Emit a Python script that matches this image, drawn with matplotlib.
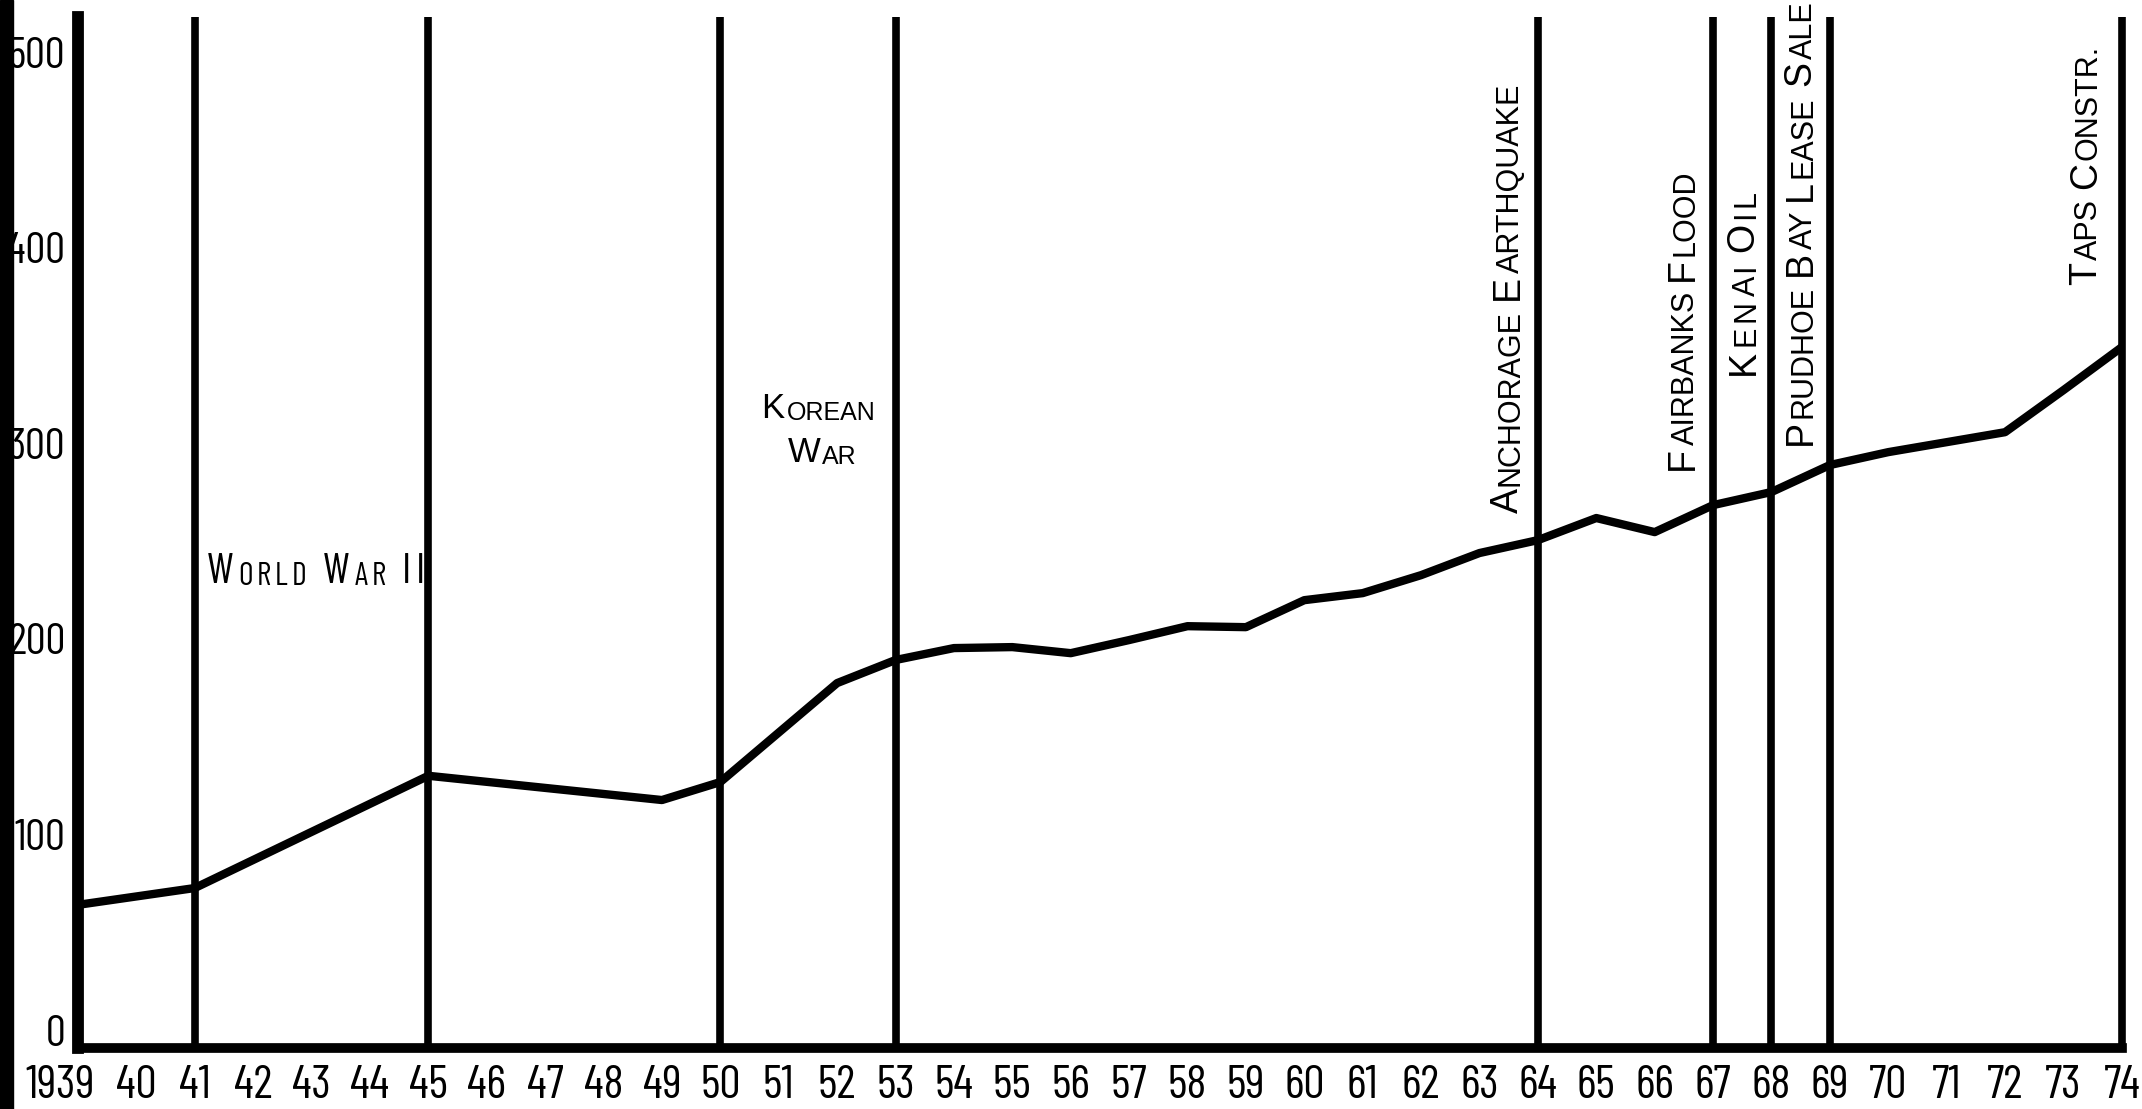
import matplotlib
matplotlib.use('Agg')
import matplotlib.pyplot as plt
from matplotlib.patches import Rectangle
from matplotlib.transforms import ScaledTranslation

# population (thousands)
years = [1939, 1941, 1945, 1949, 1950, 1952, 1953, 1954, 1955, 1956, 1957,
         1958, 1959, 1960, 1961, 1962, 1963, 1964, 1965, 1966, 1967, 1968,
         1969, 1970, 1971, 1972, 1973, 1974]
values = [64, 72.6, 130, 117.6, 126.8, 177.4, 189.2, 195.3, 195.8, 192.7, 199.4,
          206.5, 206.0, 219.8, 223.4, 232.6, 243.9, 250.5, 261.8, 254.6, 268.4, 275.1,
          288.9, 295.5, 300.6, 305.7, 327.2, 349.2]

event_years = [1941, 1945, 1950, 1953, 1964, 1967, 1968, 1969, 1974]

x_ticks = list(range(1939, 1975))
x_labels = ['1939'] + [str(y % 100) for y in range(1940, 1975)]
y_ticks = [0, 100, 200, 300, 400, 500]
y_labels = ['0', '100', '200', '300', '400', '500']

NARROW = ['Barlow Condensed', 'Roboto Condensed', 'PT Sans Narrow', 'Liberation Sans Narrow', 'DejaVu Sans']
WIDE = ['Liberation Sans', 'DejaVu Sans']

Y_MIN, Y_MAX = -9.2, 518


def caps_label(ax, x, y, text, big, small, family, vertical=False, gap=1.5, space=7.0, track=0.0):
    # small caps look: capitals at `big`, lower case drawn as capitals at `small`
    runs = []
    for wi, word in enumerate(text.split(' ')):
        cur, cur_low = '', None
        for ch in word:
            low = ch.islower() or (not ch.isalpha() and cur_low is True)
            if cur and (low != cur_low or track > 0):
                runs.append((cur, cur_low, wi))
                cur = ''
            cur += ch
            cur_low = low
        runs.append((cur, cur_low, wi))

    prev = None
    prev_word = 0
    for s, low, wi in runs:
        kw = dict(fontsize=small if low else big, family=family, color='black')
        offset = space + track if wi != prev_word else gap + track
        prev_word = wi
        if prev is None:
            if vertical:
                prev = ax.text(x, y, s.upper(), rotation=90, ha='right', va='bottom', **kw)
            else:
                prev = ax.text(x, y, s.upper(), ha='left', va='bottom', **kw)
        elif vertical:
            prev = ax.annotate(s.upper(), xy=(1, 1), xycoords=prev, xytext=(0, offset),
                               textcoords='offset points', rotation=90,
                               ha='right', va='bottom', **kw)
        else:
            prev = ax.annotate(s.upper(), xy=(1, 0), xycoords=prev, xytext=(offset, 0),
                               textcoords='offset points', ha='left', va='bottom', **kw)


fig = plt.figure(figsize=(21.42, 11.09), dpi=100)
fig.patch.set_facecolor('white')
ax = fig.add_axes([0.0364, 0.0550, 0.9542, 0.92967])
ax.set_facecolor('none')

ax.plot(years, values, color='black', linewidth=6, solid_joinstyle='round')
ax.vlines(event_years, Y_MIN, Y_MAX, colors='black', linewidth=5.5, clip_on=False)

ax.set_xlim(1939, 1974)
ax.set_ylim(Y_MIN, Y_MAX)

for side in ['top', 'right']:
    ax.spines[side].set_visible(False)
ax.spines['left'].set_linewidth(8.5)
ax.spines['bottom'].set_linewidth(7)

ax.set_xticks(x_ticks)
ax.set_xticklabels(x_labels, family=NARROW, fontsize=34)
ax.set_yticks(y_ticks)
ax.set_yticklabels(y_labels, family=NARROW, fontsize=32)
ax.tick_params(length=0)
ax.tick_params(axis='x', pad=12)
ax.tick_params(axis='y', pad=9)
first = ax.get_xticklabels()[0]
first.set_transform(first.get_transform() + ScaledTranslation(-13 / 72, 0, fig.dpi_scale_trans))

# horizontal event labels
caps_label(ax, 1941.21, 223.9, 'World War II', 31, 23, NARROW, gap=1, space=10, track=2)
caps_label(ax, 1950.70, 309.3, 'Korean', 25, 18, WIDE)
caps_label(ax, 1951.15, 286.8, 'War', 25, 18, WIDE)

# vertical event labels
caps_label(ax, 1963.79, 264.3, 'Anchorage Earthquake', 27, 22, WIDE, vertical=True)
caps_label(ax, 1966.79, 286.3, 'Fairbanks Flood', 27, 22, WIDE, vertical=True)
caps_label(ax, 1967.83, 335.0, 'Kenai Oil', 27, 22, WIDE, vertical=True, track=1.2)
caps_label(ax, 1968.81, 299.1, 'Prudhoe Bay Lease Sale', 27, 22, WIDE, vertical=True)
caps_label(ax, 1973.69, 380.9, 'Taps Constr.', 27, 22, WIDE, vertical=True)

# dark scan edge along the left border
fig.add_artist(Rectangle((0, 0), 13 / 2142, 1, transform=fig.transFigure,
                         color='black', zorder=10))

fig.savefig('out.png', dpi=100)
